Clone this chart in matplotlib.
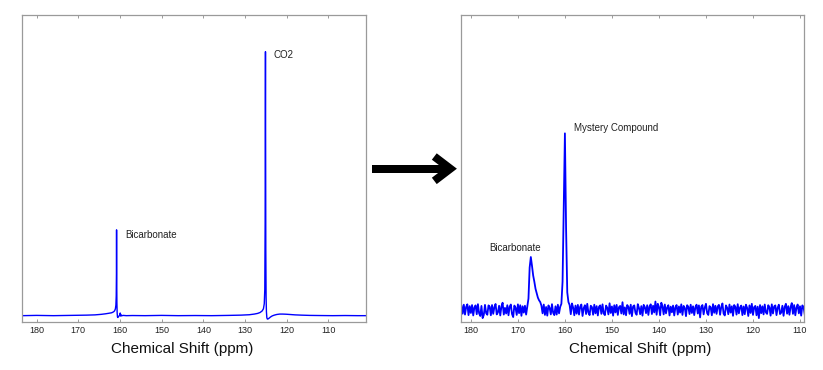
import numpy as np
import matplotlib
matplotlib.use("Agg")
import matplotlib.pyplot as plt
from matplotlib.lines import Line2D

plt.rcParams['font.family'] = ['Liberation Sans', 'DejaVu Sans']

# ---------------- data: left spectrum (before) ----------------
ppm_left = [183.5, 180, 176, 172, 168, 166, 164.5, 163.5, 162.7, 162.0,
            161.6, 161.3, 161.1, 160.98, 160.9, 160.85, 160.82, 160.79, 160.74, 160.68,
            160.6, 160.5, 160.35, 160.2, 160.05, 159.95, 159.88, 159.8, 159.7, 159.5,
            159.2, 158.5, 157, 154, 150, 146, 142, 138, 134, 131,
            129, 127.8, 127, 126.4, 125.9, 125.6, 125.4, 125.27, 125.19, 125.14,
            125.11, 125.08, 125.03, 124.96, 124.88, 124.78, 124.65, 124.45, 124.2, 123.9,
            123.5, 123.0, 122.4, 121.7, 121.0, 120.2, 119.3, 118.0, 116.5, 114.5,
            112, 109, 106, 103, 101]
intensity_left = [0.0, 0.1, 0.0, 0.1, 0.2, 0.3, 0.5, 0.7, 0.9, 1.1,
                  1.4, 1.8, 2.6, 4.0, 7.5, 16, 32.5, 16, 5.0, 1.0,
                  -0.5, -0.7, -0.3, -0.1, 0.3, 1.0, 0.6, -0.2, 0.2, 0.0,
                  0.1, 0.0, 0.05, 0.0, 0.1, 0.0, 0.05, 0.0, 0.1, 0.2,
                  0.35, 0.6, 0.85, 1.2, 1.8, 2.6, 4.5, 10, 35, 80,
                  100, 70, 25, 7, 1.5, -0.8, -1.3, -1.2, -0.9, -0.5,
                  -0.1, 0.2, 0.45, 0.6, 0.6, 0.55, 0.45, 0.3, 0.2, 0.1,
                  0.05, 0.0, 0.05, 0.0, 0.0]
labels_left = ["CO2", "Bicarbonate"]
label_pos_left = [(123.3, 98.8), (158.85, 30.6)]

# ---------------- data: right spectrum (after), 0.25 ppm steps from 182.0 to 109.0 ----------------
intensity_right = [
    2.4, -2.1, 3.0, -2.6, 1.8, 3.2, -2.9, 2.2, -1.7, 2.8, -3.1, 1.5, 2.6, -2.4, 3.3, -1.9, -3.4, 2.3, -4.6, -2.8,
    2.9, -1.8, -2.7, 2.6, 1.9, -3.0, 2.8, -2.2, 1.6, 3.4, -2.5, -1.4, 2.4, -3.1, 2.0, 4.1, -2.6, 1.2, -2.0, 2.7,
    -3.0, 1.9, 3.1, -2.3, -4.0, 2.5, 1.3, -2.8, 3.2, -1.8, 2.7, -3.3, 2.1, -1.5, 2.4, -2.6, 1.8, 6.5, 24.0, 30.0,
    25.0, 19.5, 16.0, 12.0, 9.5, 7.0, 5.5, 4.5, 2.5, -1.9, 3.1, -2.8, 1.7, -3.2, 2.6, 1.2, -2.5, 3.3, -1.6, -2.9,
    2.1, -2.6, 3.0, -1.9, 1.8, 3.5, 16.0, 60.0, 100.0, 46.0, 10.0, 4.5, 2.8, -2.4, 3.7, 1.4, -3.0, 2.5, -2.1, 2.9,
    -2.6, 1.9, 3.1, -3.4, 1.1, 2.7, -2.3, 3.5, -1.5, -2.9, 2.4, 1.6, -2.7, 3.0, -1.9, 2.2, -3.1, 1.8, 2.6, -2.2,
    3.2, -2.0, -2.9, 2.5, 1.3, -2.5, 3.8, -1.7, 2.0, -3.2, 2.7, -1.4, 2.9, -2.8, 1.6, 2.3, -2.0, 4.4, -2.5, 1.5,
    -3.0, 2.8, 1.8, -2.2, 3.0, -3.5, 2.0, 2.6, -1.6, -2.7, 3.3, 1.2, -2.4, 2.2, -3.2, 2.9, 1.6, -1.8, 2.7, -2.8,
    2.0, 3.2, -2.3, 2.4, -1.4, 4.8, -2.7, 3.5, 1.7, -3.0, 4.1, 2.2, -2.5, 3.1, -1.9, 1.4, 2.7, -3.1, 1.9, -1.3,
    2.5, -3.1, 1.5, 2.8, -2.6, 2.0, -1.5, 3.2, -2.8, 2.3, 1.2, -3.5, 2.7, 1.8, -2.3, 3.0, -1.7, 2.1, -2.9, 1.6,
    3.0, -2.0, 2.6, -4.2, 1.9, 2.8, -2.5, 1.4, 3.5, -1.8, -2.8, 2.2, 1.5, -3.0, 3.3, -1.6, 2.4, -2.2, 2.0, 2.9,
    -2.7, 1.7, 3.7, -2.1, -3.1, 2.6, 1.3, -2.4, 3.1, -1.5, 2.1, -3.3, 2.8, 1.8, -2.6, 3.3, -1.9, 1.4, 2.5, -2.9,
    2.0, -2.4, 3.0, 1.2, -3.4, 2.6, -1.7, 3.5, -2.8, 1.6, 2.3, -3.0, 1.9, -4.6, 2.8, -1.8, 2.1, -2.5, 3.1, -1.4,
    -2.2, 2.7, 1.5, -3.2, 3.2, -2.0, 2.0, 2.6, -2.9, 1.3, 3.0, -2.3, -1.5, 2.4, -3.3, 1.8, 3.5, -2.1, 2.2, -2.7,
    1.7, 3.9, -2.2, 2.8, -3.0, 1.4, 3.1, -1.9, 2.1, -3.2, 2.6, 1.6, -2.4,
]
ppm_right_start, ppm_right_end = 182.0, 109.0
labels_right = ["Mystery Compound", "Bicarbonate"]
label_pos_right = [(158.1, 102.8), (176.1, 34.9)]

xticks = [180, 170, 160, 150, 140, 130, 120, 110]
xlabel = "Chemical Shift (ppm)"

# ---------------- figure ----------------
W, H = 823, 370
fig = plt.figure(figsize=(W / 100, H / 100), dpi=100)

blue = '#0000ff'
spine_c = '#9a9a9a'

def style(ax):
    for s in ax.spines.values():
        s.set_color(spine_c)
        s.set_linewidth(0.9)
    ax.set_yticks([])
    ax.set_xticks(xticks)
    ax.tick_params(axis='x', direction='in', length=2.5, width=0.7, color=spine_c,
                   top=True, labelsize=6.5, labelcolor='#222222', pad=3)

axL = fig.add_axes([22 / W, (H - 322) / H, (366 - 22) / W, (322 - 15) / H])
axL.plot(ppm_left, intensity_left, color=blue, lw=1.0)
axL.set_xlim(183.5, 101.0)
axL.set_ylim(-2.4, 113.9)
style(axL)
for t, (x, y) in zip(labels_left, label_pos_left):
    axL.text(x, y, t, fontsize=7, ha='left', va='center', color='#222222')
axL.text(0.4666, -0.10, xlabel, transform=axL.transAxes, fontsize=11,
         ha='center', va='baseline', color='#111111')

axR = fig.add_axes([461 / W, (H - 322) / H, (804 - 461) / W, (322 - 15) / H])
ppm_right = np.linspace(ppm_right_start, ppm_right_end, len(intensity_right))
axR.plot(ppm_right, intensity_right, color=blue, lw=1.3)
axR.set_xlim(182.1, 109.15)
axR.set_ylim(-6.8, 167)
style(axR)
for t, (x, y) in zip(labels_right, label_pos_right):
    axR.text(x, y, t, fontsize=7, ha='left', va='center', color='#222222')
axR.text(0.523, -0.10, xlabel, transform=axR.transAxes, fontsize=11,
         ha='center', va='baseline', color='#111111')

# ---------------- arrow between panels ----------------
def fp(x, y):
    return x / W, 1 - y / H

lw_arrow = 8 * 72 / 100
yc = 168.7
sx0, sy0 = fp(372, yc)
sx1, sy1 = fp(451, yc)
fig.add_artist(Line2D([sx0, sx1], [sy0, sy1], transform=fig.transFigure,
                      color='black', lw=lw_arrow, solid_capstyle='butt'))
a1 = fp(434.3, yc - 12.2)
tip = fp(450.3, yc)
a2 = fp(434.3, yc + 12.2)
fig.add_artist(Line2D([a1[0], tip[0], a2[0]], [a1[1], tip[1], a2[1]],
                      transform=fig.transFigure, color='black', lw=lw_arrow,
                      solid_capstyle='butt', solid_joinstyle='miter'))

fig.savefig('out.png', dpi=100)
